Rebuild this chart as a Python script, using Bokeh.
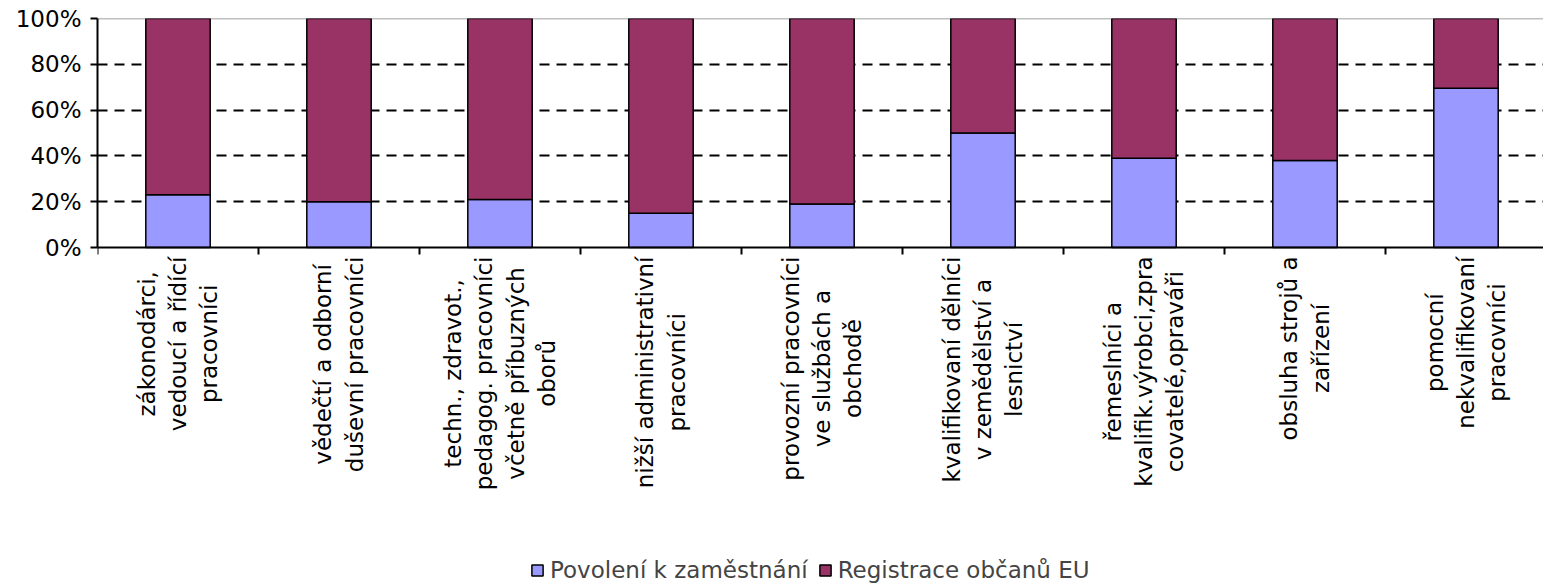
import math
from bokeh.plotting import figure
from bokeh.models import (FixedTicker, Range1d, Span, Legend, LegendItem,
                          ColumnDataSource)
from bokeh.core.properties import value
from bokeh.embed import file_html
from bokeh.resources import INLINE

categories = [
    "zákonodárci,\nvedoucí a řídící\npracovníci",
    "vědečtí a odborní\nduševní pracovníci",
    "techn., zdravot.,\npedagog. pracovníci\nvčetně příbuzných\noborů",
    "nižší administrativní\npracovníci",
    "provozní pracovníci\nve službách a\nobchodě",
    "kvalifikovaní dělníci\nv zemědělství a\nlesnictví",
    "řemeslníci a\nkvalifik.výrobci,zpra\ncovatelé,opraváři",
    "obsluha strojů a\nzařízení",
    "pomocní\nnekvalifikovaní\npracovníci",
]
povoleni = [23, 20, 21, 15, 19, 50, 39, 38, 69.5]
registrace = [77, 80, 79, 85, 81, 50, 61, 62, 30.5]
series_names = ["Povolení k zaměstnání", "Registrace občanů EU"]
y_ticks = [0, 20, 40, 60, 80, 100]
y_tick_labels = ["0%", "20%", "40%", "60%", "80%", "100%"]

FONT = "DejaVu Sans"
colors = ["#9999FF", "#993366"]

n = len(categories)
centers = [i + 0.5 for i in range(n)]
bounds = [i for i in range(n + 1)]

# layout (pixels)
W, H = 1543, 586
LEFT, TOP = 97, 18
PLOT_H = 229            # height of the 0..100 % band
CAT_W = 161             # pixels per category
frame_w = W - LEFT
frame_h = H - TOP
y_min = -(frame_h - PLOT_H) * 100.0 / PLOT_H

source = ColumnDataSource(dict(x=centers, pov=povoleni, reg=registrace))
lab_src = ColumnDataSource(dict(x=centers, y=[0] * n, text=categories))

p = figure(frame_width=frame_w, frame_height=frame_h,
           x_range=Range1d(0, frame_w / CAT_W), y_range=Range1d(y_min, 100),
           output_backend="svg", toolbar_location=None,
           x_axis_location=None,
           min_border_left=LEFT, min_border_right=0, min_border_top=TOP,
           min_border_bottom=0)

rs = p.vbar_stack(["pov", "reg"], x="x", width=0.4, source=source,
                  fill_color=colors, line_color="black", line_width=1.5)

p.xgrid.visible = False
p.ygrid.ticker = FixedTicker(ticks=[20, 40, 60, 80])
p.ygrid.grid_line_color = "black"
p.ygrid.grid_line_dash = "10 7"
p.ygrid.grid_line_width = 2
p.add_layout(Span(location=100, dimension="width", line_color="#808080",
                  line_width=1.5, level="underlay"))
p.add_layout(Span(location=0, dimension="width", line_color="black",
                  line_width=2))
p.outline_line_color = None

# category boundary ticks below the x axis line
p.ray(x=bounds, y=[0] * (n + 1), length=7, length_units="screen",
      angle=-math.pi / 2, line_color="black", line_width=2)

# y axis
p.yaxis.bounds = (0, 100)
p.yaxis.ticker = FixedTicker(ticks=y_ticks)
p.yaxis.major_label_overrides = {t: l for t, l in zip(y_ticks, y_tick_labels)}
p.yaxis.major_label_text_font = FONT
p.yaxis.major_label_text_font_size = "23px"
p.yaxis.major_label_text_color = "black"
p.yaxis.major_tick_out = 7
p.yaxis.major_tick_in = 0
p.yaxis.minor_tick_out = 0
p.yaxis.minor_tick_in = 0
p.yaxis.major_label_standoff = 9
p.yaxis.axis_line_color = "black"
p.yaxis.axis_line_width = 2
p.yaxis.major_tick_line_width = 2

# category labels: rotated, lines centred, block hanging below the axis
p.text(x="x", y="y", text="text", source=lab_src, angle=math.pi / 2,
       anchor="center_right", text_align="center", y_offset=9,
       text_font=value(FONT), text_font_size=value("23px"),
       text_color="black", text_line_height=1.2)

legend = Legend(items=[LegendItem(label=series_names[0], renderers=[rs[0]]),
                       LegendItem(label=series_names[1], renderers=[rs[1]])],
                orientation="horizontal", location=(433, 3),
                label_text_font=FONT, label_text_font_size="23px",
                glyph_width=14, glyph_height=14, spacing=10,
                label_standoff=6, border_line_color=None, padding=3,
                margin=0, background_fill_alpha=0)
p.add_layout(legend, "center")

open("out.html", "w").write(file_html(p, INLINE))
